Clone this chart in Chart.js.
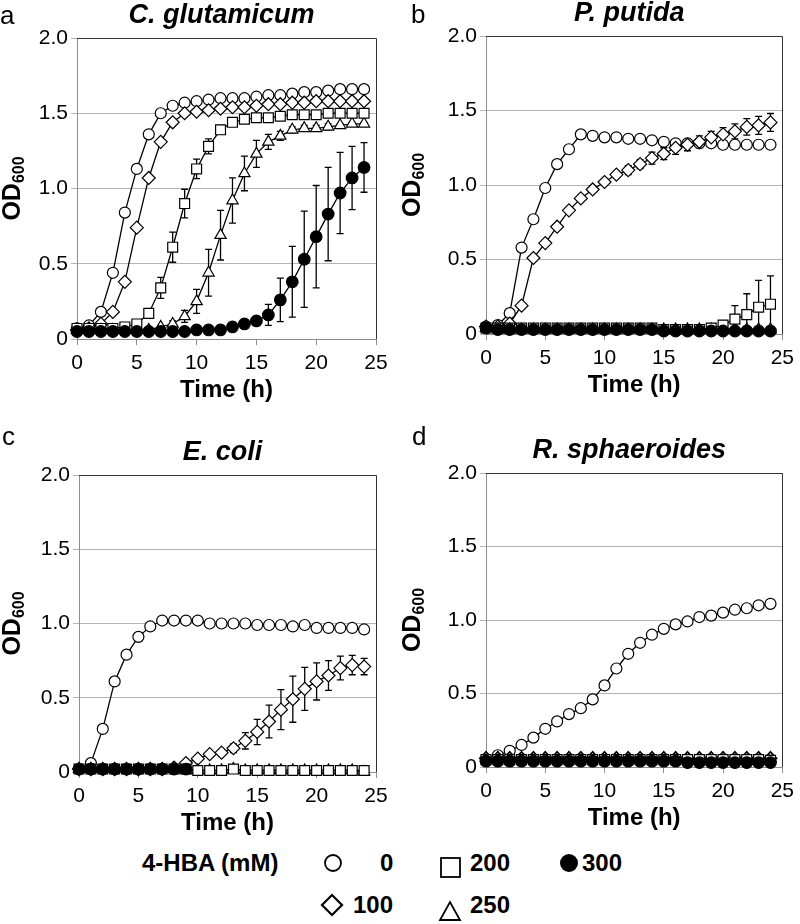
<!DOCTYPE html>
<html>
<head>
<meta charset="utf-8">
<script src="https://cdn.jsdelivr.net/npm/chart.js@4.4.1/dist/chart.umd.min.js"></script>
<style>
  body { margin: 0; background: #fff; width: 800px; height: 924px; position: relative; overflow: hidden;
         font-family: "Liberation Sans", Arial, sans-serif; color: #000; }
  canvas { position: absolute; }
  .letter { position: absolute; font-size: 26px; line-height: 1; }
  .leg { position: absolute; font-size: 24px; font-weight: bold; line-height: 1; white-space: nowrap; }
  svg { position: absolute; left: 0; top: 840px; }
</style>
</head>
<body>
<canvas id="chartA" width="400" height="420" style="left:0;top:0"></canvas>
<canvas id="chartB" width="400" height="420" style="left:400px;top:0"></canvas>
<canvas id="chartC" width="400" height="420" style="left:0;top:420px"></canvas>
<canvas id="chartD" width="400" height="420" style="left:400px;top:420px"></canvas>

<div class="letter" style="left:0;top:2px">a</div>
<div class="letter" style="left:411px;top:1px">b</div>
<div class="letter" style="left:2px;top:423px">c</div>
<div class="letter" style="left:412px;top:423px">d</div>

<!-- legend -->
<div class="leg" style="left:142px;top:851px">4-HBA (mM)</div>
<div class="leg" style="left:380px;top:851px">0</div>
<div class="leg" style="left:470px;top:851px">200</div>
<div class="leg" style="left:582px;top:851px">300</div>
<div class="leg" style="left:353px;top:893px">100</div>
<div class="leg" style="left:470px;top:893px">250</div>
<svg width="800" height="84">
  <circle cx="333" cy="23" r="8" fill="#fff" stroke="#000" stroke-width="1.8"/>
  <rect x="441" y="18" width="19" height="19" fill="#fff" stroke="#000" stroke-width="1.8"/>
  <circle cx="569" cy="23" r="9" fill="#000"/>
  <polygon points="332,55 342,65 332,75 322,65" fill="#fff" stroke="#000" stroke-width="2.2"/>
  <polygon points="440,80 460,80 450,62" fill="#fff" stroke="#000" stroke-width="1.8"/>
</svg>

<script>
// sampling times (h)
const hours = [0, 1, 2, 3, 4, 5, 6, 7, 8, 9, 10, 11, 12, 13, 14, 15, 16, 17, 18, 19, 20, 21, 22, 23, 24];

// a  C. glutamicum
const cg0   = [0.07, 0.09, 0.18, 0.44, 0.84, 1.13, 1.36, 1.50, 1.55, 1.57, 1.58, 1.59, 1.60, 1.60, 1.60, 1.61, 1.62, 1.62, 1.63, 1.64, 1.64, 1.65, 1.66, 1.66, 1.66];
const cg100 = [0.06, 0.07, 0.10, 0.18, 0.38, 0.74, 1.07, 1.31, 1.44, 1.50, 1.51, 1.52, 1.53, 1.54, 1.54, 1.55, 1.56, 1.56, 1.57, 1.57, 1.58, 1.58, 1.58, 1.58, 1.58];
const cg200 = [0.07, 0.07, 0.07, 0.07, 0.08, 0.10, 0.17, 0.34, 0.61, 0.90, 1.13, 1.28, 1.39, 1.44, 1.46, 1.47, 1.47, 1.48, 1.49, 1.49, 1.49, 1.50, 1.50, 1.50, 1.50];
const cg250 = [0.06, 0.06, 0.06, 0.06, 0.06, 0.06, 0.06, 0.08, 0.10, 0.15, 0.25, 0.44, 0.69, 0.92, 1.10, 1.23, 1.31, 1.35, 1.39, 1.40, 1.40, 1.41, 1.42, 1.43, 1.43];
const cg300 = [0.05, 0.05, 0.05, 0.05, 0.05, 0.05, 0.05, 0.05, 0.05, 0.05, 0.06, 0.06, 0.06, 0.08, 0.10, 0.12, 0.16, 0.26, 0.38, 0.53, 0.68, 0.83, 0.97, 1.07, 1.14];
const cg200Err = [0, 0, 0, 0, 0, 0.01, 0.02, 0.07, 0.10, 0.095, 0.065, 0.05, 0.03, 0.02, 0.01, 0.01, 0.01, 0.01, 0.01, 0.01, 0.01, 0.01, 0.01, 0.01, 0.01];
const cg250Err = [0, 0, 0, 0, 0, 0, 0, 0.01, 0.02, 0.04, 0.08, 0.155, 0.165, 0.15, 0.115, 0.09, 0.05, 0.03, 0.02, 0.02, 0.02, 0.02, 0.01, 0.01, 0.01];
const cg300Err = [0, 0, 0, 0, 0, 0, 0, 0, 0, 0, 0, 0, 0, 0.01, 0.01, 0.03, 0.07, 0.145, 0.235, 0.32, 0.34, 0.31, 0.27, 0.21, 0.165];

// b  P. putida
const pp0   = [0.05, 0.06, 0.14, 0.58, 0.77, 0.98, 1.14, 1.24, 1.34, 1.33, 1.32, 1.32, 1.31, 1.31, 1.30, 1.29, 1.28, 1.28, 1.28, 1.28, 1.27, 1.27, 1.27, 1.27, 1.27];
const pp100 = [0.05, 0.05, 0.07, 0.19, 0.51, 0.61, 0.72, 0.83, 0.91, 0.97, 1.02, 1.07, 1.10, 1.14, 1.18, 1.21, 1.25, 1.27, 1.29, 1.32, 1.34, 1.36, 1.39, 1.40, 1.42];
const pp200 = [0.04, 0.04, 0.04, 0.04, 0.04, 0.04, 0.04, 0.04, 0.04, 0.04, 0.04, 0.04, 0.04, 0.04, 0.04, 0.03, 0.03, 0.03, 0.03, 0.04, 0.06, 0.10, 0.13, 0.18, 0.20];
const pp250 = [0.04, 0.03, 0.03, 0.03, 0.03, 0.03, 0.03, 0.03, 0.03, 0.03, 0.03, 0.03, 0.03, 0.03, 0.03, 0.03, 0.03, 0.03, 0.03, 0.03, 0.03, 0.03, 0.03, 0.03, 0.03];
const pp300 = [0.04, 0.03, 0.03, 0.03, 0.03, 0.03, 0.03, 0.03, 0.03, 0.03, 0.03, 0.03, 0.03, 0.03, 0.03, 0.02, 0.02, 0.02, 0.02, 0.02, 0.02, 0.02, 0.02, 0.02, 0.02];
const pp100Err = [0, 0, 0, 0, 0.01, 0.01, 0.01, 0.02, 0.02, 0.02, 0.02, 0.02, 0.03, 0.03, 0.04, 0.04, 0.045, 0.04, 0.04, 0.04, 0.045, 0.05, 0.055, 0.06, 0.06];
const pp200Err = [0, 0, 0, 0, 0, 0, 0, 0, 0, 0, 0, 0, 0, 0, 0, 0, 0, 0, 0, 0.01, 0.03, 0.09, 0.14, 0.18, 0.19];

// c  E. coli
const ec0   = [0.02, 0.06, 0.29, 0.61, 0.79, 0.91, 0.98, 1.02, 1.02, 1.02, 1.02, 1.00, 1.00, 1.00, 1.00, 0.99, 0.99, 0.99, 0.98, 0.99, 0.97, 0.97, 0.97, 0.97, 0.96];
const ec100 = [0.02, 0.02, 0.02, 0.02, 0.02, 0.02, 0.02, 0.02, 0.03, 0.06, 0.09, 0.12, 0.13, 0.16, 0.21, 0.27, 0.34, 0.42, 0.49, 0.56, 0.61, 0.65, 0.70, 0.72, 0.71];
const ec200 = [0.02, 0.02, 0.02, 0.02, 0.02, 0.02, 0.02, 0.02, 0.02, 0.02, 0.01, 0.01, 0.01, 0.02, 0.01, 0.01, 0.01, 0.01, 0.01, 0.01, 0.01, 0.01, 0.01, 0.01, 0.01];
const ec250 = [0.02, 0.02, 0.02, 0.02, 0.02, 0.02, 0.02, 0.02, 0.02, 0.01, 0.01, 0.01, 0.01, 0.02, 0.01, 0.01, 0.01, 0.01, 0.01, 0.01, 0.01, 0.01, 0.01, 0.01, 0.00];
const ec300 = [0.02, 0.02, 0.02, 0.02, 0.02, 0.02, 0.02, 0.02, 0.02, 0.02, null, null, null, null, null, null, null, null, null, null, null, null, null, null, null];
const ec100Err = [0, 0, 0, 0, 0, 0, 0, 0, 0, 0, 0.01, 0.01, 0.02, 0.03, 0.055, 0.085, 0.11, 0.135, 0.155, 0.145, 0.125, 0.10, 0.08, 0.065, 0.055];

// d  R. sphaeroides
const rs0   = [0.05, 0.08, 0.11, 0.15, 0.20, 0.26, 0.31, 0.36, 0.40, 0.46, 0.555, 0.67, 0.77, 0.845, 0.90, 0.94, 0.97, 0.99, 1.02, 1.03, 1.05, 1.07, 1.08, 1.10, 1.11];
const rs100 = [0.06, 0.06, 0.06, 0.06, 0.06, 0.06, 0.06, 0.06, 0.06, 0.06, 0.06, 0.06, 0.06, 0.06, 0.06, 0.06, 0.06, 0.06, 0.06, 0.06, 0.06, 0.06, 0.06, 0.06, 0.06];
const rs200 = [0.05, 0.05, 0.05, 0.05, 0.05, 0.05, 0.05, 0.05, 0.05, 0.05, 0.05, 0.05, 0.05, 0.05, 0.05, 0.05, 0.05, 0.05, 0.05, 0.05, 0.05, 0.05, 0.05, 0.05, 0.045];
const rs250 = [0.06, 0.06, 0.06, 0.06, 0.06, 0.06, 0.06, 0.06, 0.06, 0.06, 0.06, 0.06, 0.06, 0.06, 0.06, 0.06, 0.06, 0.06, 0.06, 0.06, 0.06, 0.06, 0.06, 0.06, 0.06];
const rs300 = [0.04, 0.04, 0.04, 0.04, 0.04, 0.04, 0.04, 0.04, 0.04, 0.04, 0.04, 0.04, 0.04, 0.04, 0.04, 0.04, 0.04, 0.03, 0.03, 0.03, 0.03, 0.03, 0.03, 0.03, 0.03];

const yTicks = [0, 0.5, 1.0, 1.5, 2.0];
const xTicks = [0, 5, 10, 15, 20, 25];

const FONT = '"Liberation Sans", Arial, sans-serif';
Chart.defaults.font.family = FONT;
Chart.defaults.color = '#000';

// marker style per concentration
const markers = {
  0:   { pointStyle: 'circle',   pointRadius: 5.5, pointBackgroundColor: '#fff' },
  100: { pointStyle: 'rectRot',  pointRadius: 6.5, pointBackgroundColor: '#fff' },
  200: { pointStyle: 'rect',     pointRadius: 7,   pointBackgroundColor: '#fff' },
  250: { pointStyle: 'triangle', pointRadius: 6.5, pointBackgroundColor: '#fff' },
  300: { pointStyle: 'circle',   pointRadius: 5.8, pointBackgroundColor: '#000' }
};

function makeSet(conc, vals, errs) {
  return Object.assign({
    label: conc + ' mM',
    data: hours.map((h, i) => ({ x: h, y: vals[i] })),
    errors: errs || null,
    borderColor: '#000',
    borderWidth: 1.3,
    pointBorderColor: '#000',
    pointBorderWidth: 1.2,
    tension: 0,
    clip: false
  }, markers[conc]);
}

// error bars through the scales
const errorBars = {
  id: 'errorBars',
  beforeDatasetsDraw(chart) {
    const { ctx, chartArea: a, scales: { x, y } } = chart;
    ctx.save();
    ctx.beginPath();
    ctx.rect(a.left, a.top - 20, a.right - a.left + 20, a.bottom - a.top + 20);
    ctx.clip();
    ctx.strokeStyle = '#000';
    ctx.lineWidth = 1.3;
    chart.data.datasets.forEach(ds => {
      if (!ds.errors) return;
      ds.data.forEach((p, i) => {
        const e = ds.errors[i];
        if (!e || p.y == null) return;
        const px = x.getPixelForValue(p.x);
        const yt = y.getPixelForValue(p.y + e);
        const yb = y.getPixelForValue(p.y - e);
        ctx.beginPath();
        ctx.moveTo(px, yt); ctx.lineTo(px, yb);
        ctx.moveTo(px - 3.5, yt); ctx.lineTo(px + 3.5, yt);
        if (p.y - e >= 0) { ctx.moveTo(px - 3.5, yb); ctx.lineTo(px + 3.5, yb); }
        ctx.stroke();
      });
    });
    ctx.restore();
  }
};

// frame, species title and OD600 axis label
const panelText = {
  id: 'panelText',
  afterDraw(chart, args, opts) {
    const { ctx, chartArea: a } = chart;
    ctx.save();
    ctx.strokeStyle = '#333';
    ctx.lineWidth = 1;
    ctx.beginPath();
    ctx.moveTo(a.left, Math.round(a.top) + 0.5);
    ctx.lineTo(Math.round(a.right) + 0.5, Math.round(a.top) + 0.5);
    ctx.lineTo(Math.round(a.right) + 0.5, a.bottom);
    ctx.stroke();

    ctx.fillStyle = '#000';
    ctx.font = 'italic bold 27px ' + FONT;
    ctx.textAlign = 'center';
    ctx.textBaseline = 'middle';
    ctx.fillText(opts.title, (a.left + a.right) / 2 - 5, a.top - 22);

    ctx.translate(12, (a.top + a.bottom) / 2);
    ctx.rotate(-Math.PI / 2);
    ctx.textAlign = 'left';
    ctx.textBaseline = 'alphabetic';
    ctx.font = 'bold 25px ' + FONT;
    const w1 = ctx.measureText('OD').width;
    ctx.font = 'bold 16px ' + FONT;
    const w2 = ctx.measureText('600').width;
    const sx = -(w1 + w2) / 2;
    ctx.font = 'bold 25px ' + FONT;
    ctx.fillText('OD', sx, 8);
    ctx.font = 'bold 16px ' + FONT;
    ctx.fillText('600', sx + w1, 12);
    ctx.restore();
  }
};

const H = 420, W = 400, XH = 65.4;

function makeChart(id, title, area, sets) {
  new Chart(document.getElementById(id), {
    type: 'line',
    data: { datasets: sets },
    plugins: [errorBars, panelText],
    options: {
      responsive: false,
      animation: false,
      layout: { autoPadding: false, padding: { left: 0, top: area.top, right: W - area.right, bottom: H - area.bottom - XH } },
      plugins: { legend: { display: false }, tooltip: { enabled: false }, panelText: { title: title } },
      scales: {
        x: {
          type: 'linear', min: 0, max: 25,
          afterBuildTicks: s => { s.ticks = xTicks.map(v => ({ value: v })); },
          ticks: { font: { size: 21 }, color: '#000', padding: 6, maxRotation: 0 },
          grid: { drawOnChartArea: false, tickLength: 6, color: '#8c8c8c' },
          border: { color: '#8c8c8c' },
          title: { display: true, text: 'Time (h)', font: { size: 24, weight: 'bold' }, padding: 0, color: '#000' },
          afterFit: s => { s.height = XH; }
        },
        y: {
          min: 0, max: 2,
          afterBuildTicks: s => { s.ticks = yTicks.map(v => ({ value: v })); },
          ticks: { font: { size: 21 }, color: '#000', padding: 3, callback: v => v === 0 ? '0' : v.toFixed(1) },
          grid: { color: '#b4b4b4', tickLength: 6 },
          border: { color: '#8c8c8c' },
          afterFit: s => { s.width = area.left; }
        }
      }
    }
  });
}

makeChart('chartA', 'C. glutamicum', { left: 77, right: 376, top: 38, bottom: 339 }, [
  makeSet(300, cg300, cg300Err),
  makeSet(200, cg200, cg200Err),
  makeSet(250, cg250, cg250Err),
  makeSet(100, cg100),
  makeSet(0, cg0)
]);
makeChart('chartB', 'P. putida', { left: 86, right: 386, top: 36, bottom: 334 }, [
  makeSet(300, pp300),
  makeSet(200, pp200, pp200Err),
  makeSet(250, pp250),
  makeSet(100, pp100, pp100Err),
  makeSet(0, pp0)
]);
makeChart('chartC', 'E. coli', { left: 79, right: 376, top: 55, bottom: 352 }, [
  makeSet(300, ec300),
  makeSet(200, ec200),
  makeSet(250, ec250),
  makeSet(100, ec100, ec100Err),
  makeSet(0, ec0)
]);
makeChart('chartD', 'R. sphaeroides', { left: 86, right: 387, top: 53, bottom: 347 }, [
  makeSet(300, rs300),
  makeSet(200, rs200),
  makeSet(250, rs250),
  makeSet(100, rs100),
  makeSet(0, rs0)
]);
</script>
</body>
</html>
